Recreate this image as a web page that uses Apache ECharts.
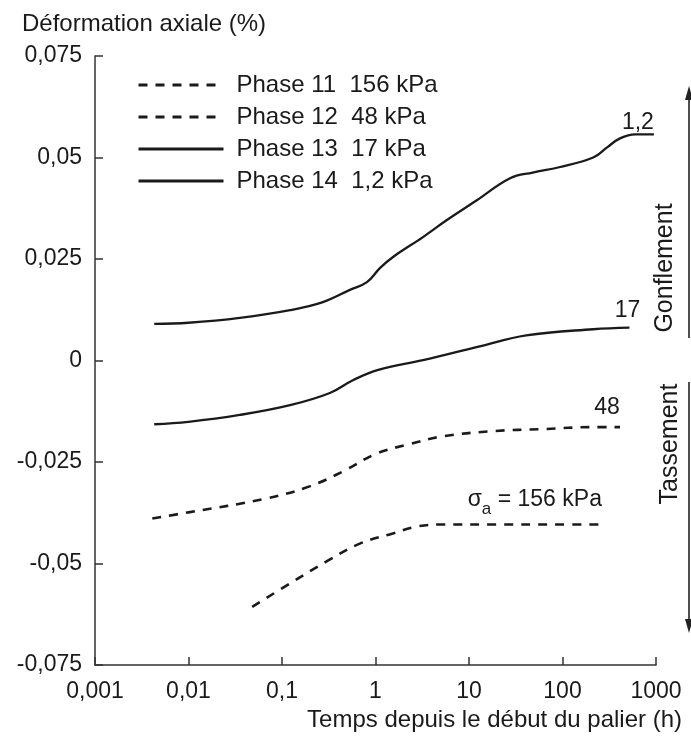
<!DOCTYPE html>
<html>
<head>
<meta charset="utf-8">
<script src="https://cdn.jsdelivr.net/npm/echarts@6/dist/echarts.min.js"></script>
<style>
html,body{margin:0;padding:0;background:#fff;}
#chart{width:691px;height:740px;}
</style>
</head>
<body>
<div id="chart"></div>
<script>
// ---- data (time in hours, axial strain in %) ----
const phase11T = [0.048, 0.13, 0.30, 0.68, 1.53, 2.76, 5.2, 20, 80, 264];
const phase11Y = [-0.0607, -0.0545, -0.0495, -0.0451, -0.0426, -0.0409, -0.0404, -0.0404, -0.0404, -0.0404];

const phase12T = [0.0041, 0.01, 0.068, 0.197, 0.45, 1.03, 2.32, 5.2, 18, 62, 213, 412];
const phase12Y = [-0.0389, -0.0374, -0.034, -0.031, -0.0273, -0.0229, -0.0206, -0.0187, -0.0174, -0.0169, -0.0164, -0.0164];

const phase13T = [0.0043, 0.01, 0.0354, 0.122, 0.325, 0.58, 1.07, 3.22, 13, 41, 213, 520];
const phase13Y = [-0.0157, -0.0151, -0.0134, -0.0110, -0.0080, -0.0048, -0.0023, 0.0001, 0.0035, 0.0062, 0.0077, 0.0081];

const phase14T = [0.0043, 0.01, 0.0354, 0.122, 0.274, 0.533, 0.81, 1.12, 1.54, 3.22, 5.8, 12, 27.5, 48, 92, 213, 300, 412, 600, 950];
const phase14Y = [0.0090, 0.0093, 0.0105, 0.0124, 0.0144, 0.0174, 0.0193, 0.0228, 0.0255, 0.0304, 0.0346, 0.0394, 0.0449, 0.0463, 0.0476, 0.0500, 0.0525, 0.0547, 0.0557, 0.0557];

const seriesNames = ['Phase 11  156 kPa', 'Phase 12  48 kPa', 'Phase 13  17 kPa', 'Phase 14  1,2 kPa'];
const endLabels = ['σa = 156 kPa', '48', '17', '1,2'];
const xTicks = [0.001, 0.01, 0.1, 1, 10, 100, 1000];
const yTicks = [-0.075, -0.05, -0.025, 0, 0.025, 0.05, 0.075];

const FONT = "'Liberation Sans', Arial, Helvetica, sans-serif";
const INK = '#1a1a1a';

function pairs(t, y) { return t.map((v, i) => [v, y[i]]); }

const allT = [phase11T, phase12T, phase13T, phase14T];
const allY = [phase11Y, phase12Y, phase13Y, phase14Y];
const dashed = [true, true, false, false];
const labelOffsets = [[0, -25], [-13, -19], [-2, -17], [-16, -12]];

const series = allT.map((t, i) => {
  const data = pairs(t, allY[i]);
  const last = data[data.length - 1];
  const isSigma = i === 0;
  return {
    name: seriesNames[i],
    type: 'line',
    data: data,
    showSymbol: false,
    symbol: 'none',
    smooth: 0.4,
    lineStyle: dashed[i]
      ? { color: INK, width: 2.6, type: [9, 8] }
      : { color: INK, width: 2.3, type: 'solid' },
    itemStyle: { color: INK },
    emphasis: { disabled: true },
    markPoint: {
      symbol: 'circle',
      symbolSize: 0,
      silent: true,
      animation: false,
      data: [{
        coord: last,
        label: {
          show: true,
          position: 'inside',
          offset: labelOffsets[i],
          align: isSigma ? 'right' : 'center',
          verticalAlign: 'middle',
          formatter: isSigma ? '{s|σ}{sub|a}{t| = 156 kPa}' : endLabels[i],
          color: INK,
          fontFamily: FONT,
          fontSize: 23,
          rich: isSigma ? {
            s: { fontSize: 23, fontFamily: FONT, color: INK, verticalAlign: 'middle', lineHeight: 36 },
            sub: { fontSize: 17, fontFamily: FONT, color: INK, verticalAlign: 'bottom', lineHeight: 36 },
            t: { fontSize: 23, fontFamily: FONT, color: INK, verticalAlign: 'middle', lineHeight: 36 }
          } : undefined
        }
      }]
    }
  };
});

const chart = echarts.init(document.getElementById('chart'), null, { renderer: 'canvas' });
chart.setOption({
  animation: false,
  backgroundColor: '#fff',
  textStyle: { fontFamily: FONT, color: INK },
  title: {
    text: 'Déformation axiale (%)',
    left: 22,
    top: 12,
    padding: 0,
    textStyle: { fontFamily: FONT, fontSize: 24, fontWeight: 'normal', color: INK }
  },
  legend: {
    orient: 'vertical',
    left: 137,
    top: 73,
    padding: 0,
    itemWidth: 85,
    itemHeight: 14,
    itemGap: 8,
    selectedMode: false,
    data: seriesNames,
    itemStyle: { opacity: 0, borderWidth: 0 },
    lineStyle: { width: 3 },
    textStyle: { fontFamily: FONT, fontSize: 24, color: INK, padding: [0, 0, 0, 8] }
  },
  grid: { left: 95, right: 35, top: 56, bottom: 75, containLabel: false },
  xAxis: {
    type: 'log',
    logBase: 10,
    min: xTicks[0],
    max: xTicks[xTicks.length - 1],
    name: 'Temps depuis le début du palier (h)',
    nameLocation: 'end',
    nameGap: 26,
    nameTextStyle: {
      fontFamily: FONT, fontSize: 24, color: INK,
      align: 'right', verticalAlign: 'top', padding: [43, 0, 0, 0]
    },
    axisLine: { show: true, onZero: false, lineStyle: { color: '#333', width: 1.5 } },
    axisTick: { show: true, inside: true, length: 8, lineStyle: { color: '#333', width: 1.5 } },
    minorTick: { show: false },
    splitLine: { show: false },
    axisLabel: {
      fontFamily: FONT, fontSize: 23, color: INK, margin: 15,
      showMinLabel: true, showMaxLabel: true,
      formatter: v => String(Number(Number(v).toPrecision(3))).replace('.', ',')
    }
  },
  yAxis: {
    type: 'value',
    min: yTicks[0],
    max: yTicks[yTicks.length - 1],
    interval: 0.025,
    axisLine: { show: true, onZero: false, lineStyle: { color: '#333', width: 1.5 } },
    axisTick: { show: true, inside: true, length: 8, lineStyle: { color: '#333', width: 1.5 } },
    splitLine: { show: false },
    axisLabel: {
      fontFamily: FONT, fontSize: 23, color: INK, margin: 13,
      formatter: v => String(Number(Number(v).toFixed(3))).replace('.', ',')
    }
  },
  graphic: [
    { type: 'line', shape: { x1: 689, y1: 338, x2: 689, y2: 96 }, style: { stroke: '#222', lineWidth: 1.6 } },
    { type: 'polygon', shape: { points: [[689, 86], [685, 100], [693, 100]] }, style: { fill: '#222' } },
    { type: 'text', x: 665, y: 268, rotation: Math.PI / 2,
      style: { text: 'Gonflement', font: '25px ' + FONT, fill: INK, align: 'center', verticalAlign: 'middle' } },
    { type: 'line', shape: { x1: 689, y1: 382, x2: 689, y2: 622 }, style: { stroke: '#222', lineWidth: 1.6 } },
    { type: 'polygon', shape: { points: [[689, 633], [685, 619], [693, 619]] }, style: { fill: '#222' } },
    { type: 'text', x: 670, y: 444, rotation: Math.PI / 2,
      style: { text: 'Tassement', font: '25px ' + FONT, fill: INK, align: 'center', verticalAlign: 'middle' } }
  ],
  series: series
});
</script>
</body>
</html>
